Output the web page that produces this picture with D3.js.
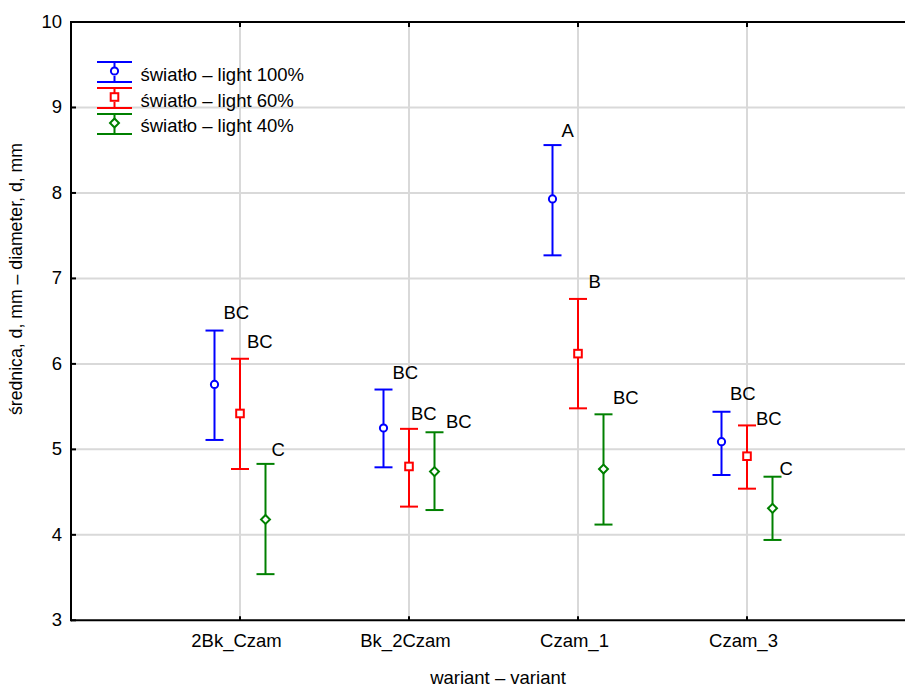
<!DOCTYPE html>
<html>
<head>
<meta charset="utf-8">
<script src="https://cdn.jsdelivr.net/npm/d3@7"></script>
<style>
  body { margin: 0; background: #fff; }
  svg { display: block; font-family: "Liberation Sans", Arial, sans-serif; }
</style>
</head>
<body>
<div id="chart"></div>
<script>
// categories and series
var categories = ["2Bk_Czam", "Bk_2Czam", "Czam_1", "Czam_3"];
var seriesNames = ["światło – light 100%", "światło – light 60%", "światło – light 40%"];

// means and confidence limits
var mean100 = [5.76, 5.25, 7.93, 5.09];
var upper100 = [6.39, 5.70, 8.56, 5.44];
var lower100 = [5.11, 4.79, 7.27, 4.70];

var mean60 = [5.42, 4.80, 6.12, 4.92];
var upper60 = [6.06, 5.24, 6.76, 5.28];
var lower60 = [4.77, 4.33, 5.48, 4.54];

var mean40 = [4.18, 4.74, 4.77, 4.31];
var upper40 = [4.83, 5.20, 5.41, 4.68];
var lower40 = [3.54, 4.29, 4.12, 3.94];

// homogeneous group letters
var letters100 = ["BC", "BC", "A", "BC"];
var letters60 = ["BC", "BC", "B", "BC"];
var letters40 = ["C", "BC", "BC", "C"];

var yTicks = [3, 4, 5, 6, 7, 8, 9, 10];

// label nudges (px) per category, per series: [dx from cap end, rise above cap]
var labelDx = [[0, -2, -3], [0, -7, 2.5], [0, 1.5, 0.5], [-0.5, 0, -2]];
var labelRise = [[11.7, 11, 7.6], [11, 9, 4.6], [8.3, 11, 10.4], [11.3, 0.7, 1.7]];

function init() {
  var w = 905;
  var h = 686;
  var left = 71, right = 916, top = 22, bottom = 620.3;
  var colors = ["#0000ff", "#ff0000", "#008000"];
  var capHalf = 9;

  var series = [
    { name: seriesNames[0], mean: mean100, up: upper100, lo: lower100, letters: letters100 },
    { name: seriesNames[1], mean: mean60, up: upper60, lo: lower60, letters: letters60 },
    { name: seriesNames[2], mean: mean40, up: upper40, lo: lower40, letters: letters40 }
  ];

  var xScale = d3.scalePoint()
    .domain(categories)
    .range([left, right])
    .padding(1);

  var offset = d3.scalePoint()
    .domain(d3.range(series.length))
    .range([-25.5, 25.5]);

  var yScale = d3.scaleLinear()
    .domain([3, 10])
    .range([bottom, top]);

  var svg = d3.select("#chart")
    .append("svg")
    .attr("width", w)
    .attr("height", h);

  // grid
  svg.append("g").selectAll("line")
    .data(yTicks.slice(1, -1))
    .enter().append("line")
    .attr("x1", left).attr("x2", w)
    .attr("y1", d => yScale(d)).attr("y2", d => yScale(d))
    .attr("stroke", "#d9d9d9").attr("stroke-width", 2);

  svg.append("g").selectAll("line")
    .data(categories)
    .enter().append("line")
    .attr("x1", d => xScale(d)).attr("x2", d => xScale(d))
    .attr("y1", top).attr("y2", bottom)
    .attr("stroke", "#d9d9d9").attr("stroke-width", 2);

  // frame
  var frame = svg.append("g").attr("stroke", "#000").attr("stroke-width", 2);
  frame.append("line").attr("x1", left).attr("x2", w).attr("y1", top).attr("y2", top);
  frame.append("line").attr("x1", left).attr("x2", w).attr("y1", bottom).attr("y2", bottom);
  frame.append("line").attr("x1", left).attr("x2", left).attr("y1", top - 1).attr("y2", bottom + 1);

  // ticks inside the frame
  categories.forEach(function(c) {
    frame.append("line").attr("x1", xScale(c)).attr("x2", xScale(c)).attr("y1", top).attr("y2", top + 5);
    frame.append("line").attr("x1", xScale(c)).attr("x2", xScale(c)).attr("y1", bottom).attr("y2", bottom - 4);
  });
  yTicks.forEach(function(t) {
    frame.append("line").attr("x1", left).attr("x2", left + 5).attr("y1", yScale(t)).attr("y2", yScale(t));
  });

  // tick labels
  svg.append("g").selectAll("text")
    .data(yTicks)
    .enter().append("text")
    .attr("x", 62)
    .attr("y", d => yScale(d) + 6)
    .attr("text-anchor", "end")
    .attr("font-size", "18.5px")
    .text(d => d);

  svg.append("g").selectAll("text")
    .data(categories)
    .enter().append("text")
    .attr("x", d => xScale(d) - 3.5)
    .attr("y", 647.3)
    .attr("text-anchor", "middle")
    .attr("font-size", "18.5px")
    .text(d => d);

  // axis titles
  svg.append("text")
    .attr("x", 498).attr("y", 683.5)
    .attr("text-anchor", "middle")
    .attr("font-size", "18.5px")
    .text("wariant – variant");

  svg.append("text")
    .attr("transform", "translate(21.5,415) rotate(-90)")
    .attr("text-anchor", "start")
    .attr("font-size", "18.5px")
    .attr("textLength", 272)
    .attr("lengthAdjust", "spacingAndGlyphs")
    .text("średnica, d, mm – diameter, d, mm");

  function marker(g, i, x, y) {
    if (i === 0) {
      g.append("circle").attr("cx", x).attr("cy", y).attr("r", 3.6)
        .attr("fill", "none").attr("stroke", colors[i]).attr("stroke-width", 2);
    } else if (i === 1) {
      g.append("rect").attr("x", x - 3.8).attr("y", y - 3.8).attr("width", 7.6).attr("height", 7.6)
        .attr("fill", "none").attr("stroke", colors[i]).attr("stroke-width", 2);
    } else {
      g.append("path")
        .attr("d", d3.symbol(d3.symbolSquare, 40)())
        .attr("transform", "translate(" + x + "," + y + ") rotate(45)")
        .attr("fill", "none").attr("stroke", colors[i]).attr("stroke-width", 2);
    }
  }

  // error bars
  series.forEach(function(s, i) {
    var g = svg.append("g");
    categories.forEach(function(c, j) {
      var x = xScale(c) + offset(i);
      var yu = yScale(s.up[j]), yl = yScale(s.lo[j]), ym = yScale(s.mean[j]);
      g.append("line").attr("x1", x).attr("x2", x).attr("y1", yu).attr("y2", yl)
        .attr("stroke", colors[i]).attr("stroke-width", 2);
      g.append("line").attr("x1", x - capHalf).attr("x2", x + capHalf).attr("y1", yu).attr("y2", yu)
        .attr("stroke", colors[i]).attr("stroke-width", 2);
      g.append("line").attr("x1", x - capHalf).attr("x2", x + capHalf).attr("y1", yl).attr("y2", yl)
        .attr("stroke", colors[i]).attr("stroke-width", 2);
      g.append("rect").attr("x", x - 4).attr("y", ym - 4).attr("width", 8).attr("height", 8).attr("fill", "#fff");
      marker(g, i, x, ym);
      g.append("text")
        .attr("x", x + capHalf + labelDx[j][i])
        .attr("y", yu - labelRise[j][i])
        .attr("font-size", "18.5px")
        .text(s.letters[j]);
    });
  });

  // legend
  var legend = svg.append("g");
  series.forEach(function(s, i) {
    var cy = 72 + i * 26;
    var cx = 114.5;
    legend.append("line").attr("x1", cx).attr("x2", cx).attr("y1", cy - 10).attr("y2", cy + 10)
      .attr("stroke", colors[i]).attr("stroke-width", 2);
    legend.append("line").attr("x1", 97).attr("x2", 132).attr("y1", cy - 10).attr("y2", cy - 10)
      .attr("stroke", colors[i]).attr("stroke-width", 2);
    legend.append("line").attr("x1", 97).attr("x2", 132).attr("y1", cy + 10).attr("y2", cy + 10)
      .attr("stroke", colors[i]).attr("stroke-width", 2);
    legend.append("rect").attr("x", cx - 4).attr("y", cy - 4).attr("width", 8).attr("height", 8).attr("fill", "#fff");
    marker(legend, i, cx, cy - 1);
    legend.append("text")
      .attr("x", 140.5)
      .attr("y", 81 + i * 25.5)
      .attr("font-size", "18.5px")
      .text(s.name);
  });
}

window.onload = init;
</script>
</body>
</html>
